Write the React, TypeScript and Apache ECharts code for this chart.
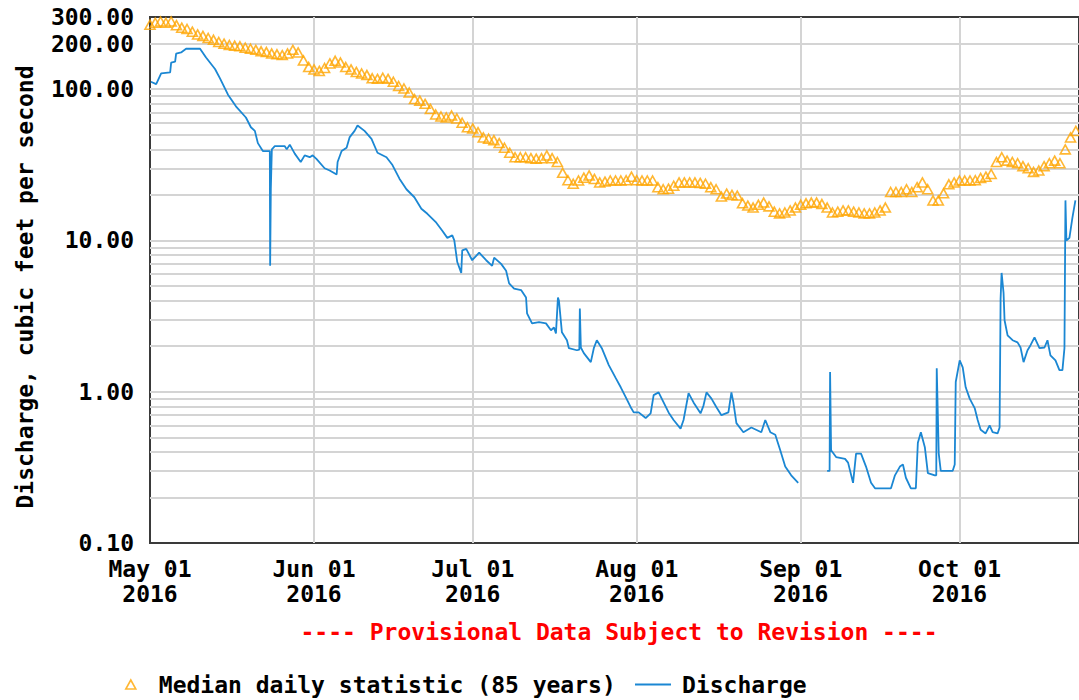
import React, { useEffect, useRef } from "react";
import * as echarts from "echarts";

const START = Date.UTC(2016, 4, 1);
const DAY = 86400000;
const MONTHS = ["Jan", "Feb", "Mar", "Apr", "May", "Jun", "Jul", "Aug", "Sep", "Oct", "Nov", "Dec"];

// month starts expressed as days since 2016-05-01
const monthLabelDays = [0, 31, 61, 92, 123, 153];
const monthGridDays = [31, 61, 92, 123, 153];

const yLabelValues = [0.1, 1, 10, 100, 200, 300];
const yGridValues = [
  0.2, 0.3, 0.4, 0.5, 0.6, 0.7, 0.8, 0.9,
  1, 2, 3, 4, 5, 6, 7, 8, 9,
  10, 20, 30, 40, 50, 60, 70, 80, 90,
  100, 200,
];

// Discharge: day offset since 2016-05-01 and value (cfs); null = gap
const dischargeDay = [
  0.17, 1.17, 2.11, 3.81, 4.0, 4.75, 4.94, 5.88, 6.82, 9.46,
  10.59, 12.29, 13.23, 14.74, 16.24, 18.13, 19.07, 19.82, 20.39, 21.33,
  22.65, 22.71, 22.84, 23.03, 23.59, 25.48, 25.85, 26.42, 27.36, 28.49,
  29.24, 30.19, 30.75, 31.5, 33.0, 33.96, 35.28, 35.46, 36.22, 37.16,
  37.72, 38.67, 39.23, 40.55, 41.87, 43.0, 44.7, 45.83, 47.15, 48.47,
  49.97, 51.29, 52.43, 54.12, 55.25, 56.2, 57.14, 57.52, 58.08, 58.83,
  59.02, 59.77, 60.9, 62.22, 63.54, 64.67, 65.05, 66.37, 67.31, 67.88,
  68.82, 70.14, 71.08, 71.27, 72.21, 73.53, 74.85, 75.79, 76.36, 76.73,
  77.11, 77.3, 77.86, 78.81, 79.18, 80.69, 81.15, 81.25, 81.44, 82.0,
  83.32, 83.89, 84.46, 85.4, 86.72, 88.04, 88.98, 89.92, 90.86, 91.43,
  92.37, 93.69, 94.63, 95.2, 96.14, 97.08, 98.02, 98.97, 100.29, 100.85,
  101.8, 102.74, 104.06, 104.62, 105.19, 106.13, 107.07, 108.01, 109.33, 109.9,
  110.27, 110.84, 112.16, 113.67, 115.55, 116.3, 117.25, 118.19, 119.13, 120.07,
  121.2, 122.52, 122.6, 127.99,
  128.46, 128.55, 128.74, 129.69, 131.38, 131.95, 132.89, 133.46, 134.4, 135.34,
  136.29, 137.04, 140.06, 140.81, 141.75, 142.32, 142.88, 143.82, 144.76, 145.14,
  145.71, 146.46, 147.03, 148.35, 148.62, 148.71, 149.09, 149.47, 151.73, 152.11,
  152.3, 153.05, 153.62, 154.18, 154.94, 155.88, 156.45, 157.01, 157.95, 158.71,
  159.27, 160.21, 160.59, 160.78, 160.97, 161.34, 161.53, 162.1, 163.04, 163.98,
  164.55, 165.12, 165.87, 166.44, 167.19, 168.13, 169.08, 169.64, 170.2, 171.15,
  171.9, 172.47, 172.85, 173.04, 173.22, 173.79, 174.35, 174.92,
];
const dischargeCfs = [
  112, 108, 127, 129, 150, 152, 172, 175, 185, 185,
  162, 136, 118, 92, 77, 65, 56, 53, 44, 39,
  39, 6.8, 22, 40, 42, 42, 40, 43, 37.5, 33,
  36.5, 35.5, 36.5, 34.5, 30, 29, 27.3, 33, 39, 41,
  48, 53, 57.5, 53, 47, 38, 35.5, 31.5, 25.6, 21.8,
  19.3, 16.2, 15, 13.1, 11.6, 10.4, 10.8, 10, 7.2, 6.1,
  8.6, 8.8, 7.4, 8.3, 7.4, 6.8, 7.7, 7.0, 6.3, 5.2,
  4.8, 4.7, 4.2, 3.3, 2.83, 2.88, 2.83, 2.55, 2.66, 2.43,
  4.2, 4.0, 2.47, 2.19, 1.94, 1.88, 1.9, 3.55, 1.96, 1.8,
  1.57, 1.94, 2.19, 1.94, 1.5, 1.23, 1.07, 0.92, 0.79, 0.73,
  0.73, 0.67, 0.72, 0.95, 0.99, 0.85, 0.73, 0.65, 0.57, 0.65,
  0.98, 0.85, 0.72, 0.81, 0.99, 0.9, 0.79, 0.7, 0.73, 0.99,
  0.85, 0.62, 0.54, 0.58, 0.54, 0.65, 0.54, 0.52, 0.41, 0.32,
  0.28, 0.25, null, 0.30,
  0.3, 1.35, 0.41, 0.37, 0.36, 0.34, 0.25, 0.39, 0.39, 0.32,
  0.25, 0.23, 0.23, 0.28, 0.32, 0.33, 0.27, 0.23, 0.23, 0.46,
  0.54, 0.43, 0.29, 0.28, 0.28, 1.43, 0.39, 0.3, 0.3, 0.33,
  1.16, 1.61, 1.45, 1.07, 0.9, 0.78, 0.65, 0.56, 0.53, 0.60,
  0.54, 0.53, 0.58, 4.1, 6.1, 4.5, 2.97, 2.36, 2.19, 2.12,
  1.96, 1.57, 1.88, 2.03, 2.29, 1.94, 1.96, 2.19, 1.74, 1.61,
  1.39, 1.39, 1.94, 18.4, 10, 10.4, 14.1, 18.4,
];

// Median daily statistic (85 years), one value per day from 2016-05-01
const medianCfs = [
  267, 275, 280, 275, 280, 265, 255, 250, 240, 230,
  225, 218, 212, 205, 200, 196, 194, 192, 188, 185,
  182, 178, 176, 172, 170, 168, 172, 182, 175, 155,
  140, 135, 132, 138, 148, 154, 150, 140, 135, 130,
  127, 124, 118, 117, 119, 117, 112, 105, 101, 95,
  86, 84, 80, 74, 68, 66, 65, 67, 64, 60,
  56, 55, 52, 48, 47, 46, 44, 41, 38, 35.5,
  35.5, 35.5, 35, 34.7, 35, 36.5, 35, 33, 28, 25,
  23.7, 24.9, 26, 26.9, 25.5, 24.2, 24.5, 24.9, 24.9, 24.9,
  25, 26.4, 25, 24.9, 24.9, 24.9, 22.5, 21.8, 22, 23,
  24.2, 24.2, 24.2, 24.2, 24, 23.7, 22.5, 21.8, 19.5, 20.4,
  20, 19.8, 17.6, 17, 16.5, 17.2, 17.8, 16.8, 15.5, 15.1,
  15.3, 15.8, 16.5, 17.2, 17.6, 17.8, 17.8, 17.4, 16.5, 15.3,
  15.5, 15.8, 15.8, 15.5, 15.3, 15.1, 15.1, 15.3, 15.8, 16.5,
  20.9, 20.9, 20.9, 21.8, 20.9, 22.5, 24.2, 21.8, 18.4, 18.4,
  20.5, 23.5, 24.2, 24.9, 24.9, 24.9, 25, 25.9, 26.4, 27.5,
  33, 35.5, 33.7, 33, 32.4, 31, 30, 28.4, 29, 31,
  32.4, 33.7, 32.4, 40, 48, 53,
];

const FONT = '"DejaVu Sans Mono", "Liberation Mono", monospace';
const ORANGE = "#ffa500";
const BLUE = "#1b87d3";

export default function App() {
  const ref = useRef<HTMLDivElement>(null);

  useEffect(() => {
    document.body.style.margin = "0";
    if (!ref.current) return;
    const chart = echarts.init(ref.current, null, { renderer: "svg" });

    const discharge = dischargeDay.map((d, i) => [d, dischargeCfs[i]]);
    const median = medianCfs.map((v, i) => [i, v]);

    const textBase = { fontFamily: FONT, fontWeight: "bold", fontSize: 23, color: "#000" };

    chart.setOption({
      animation: false,
      backgroundColor: "#fff",
      grid: {
        left: 150, top: 17, right: -3, bottom: 157,
        show: true, borderColor: "#3a3a3a", borderWidth: 2, backgroundColor: "#fff",
      },
      xAxis: {
        type: "value",
        min: 0,
        max: 175.6,
        axisLine: { show: false },
        axisTick: { show: false, customValues: monthGridDays },
        axisLabel: {
          ...textBase,
          customValues: monthLabelDays,
          lineHeight: 25,
          margin: 13,
          hideOverlap: false,
          formatter: (v: number) => {
            const d = new Date(START + Math.round(v) * DAY);
            return `${MONTHS[d.getUTCMonth()]} ${String(d.getUTCDate()).padStart(2, "0")}\n${d.getUTCFullYear()}`;
          },
        },
        splitLine: { show: true, lineStyle: { color: "#d4d4d4", width: 2 } },
      },
      yAxis: {
        type: "log",
        logBase: 10,
        min: 0.1,
        max: 300,
        name: "Discharge, cubic feet per second",
        nameLocation: "middle",
        nameGap: 114,
        nameRotate: 90,
        nameTextStyle: { ...textBase, padding: [0, 14, 0, 0] },
        axisLine: { show: false },
        axisTick: { show: false, customValues: yGridValues },
        axisLabel: {
          ...textBase,
          customValues: yLabelValues,
          margin: 16,
          formatter: (v: number) => Number(v).toFixed(2),
        },
        splitLine: { show: true, lineStyle: { color: "#d4d4d4", width: 2 } },
      },
      legend: [
        {
          left: 125, top: 673, padding: 0,
          itemWidth: 10, itemHeight: 9,
          data: [
            {
              name: "Median daily statistic (85 years)",
              icon: "triangle",
              itemStyle: { color: "rgba(255,255,255,0)", borderColor: ORANGE, borderWidth: 1.6 },
            },
          ],
          textStyle: { ...textBase, padding: [0, 0, 0, 18] },
        },
        {
          left: 635, top: 673, padding: 0,
          itemWidth: 36, itemHeight: 2,
          data: [
            { name: "Discharge", icon: "rect", itemStyle: { color: BLUE } },
          ],
          textStyle: { ...textBase, padding: [0, 0, 0, 6] },
        },
      ],
      graphic: [
        {
          type: "text",
          x: 619,
          y: 632,
          style: {
            text: "---- Provisional Data Subject to Revision ----",
            font: `bold 23px ${FONT}`,
            fill: "#ff0000",
            align: "center",
            verticalAlign: "middle",
          },
        },
      ],
      series: [
        {
          name: "Median daily statistic (85 years)",
          type: "scatter",
          data: median,
          symbol: "triangle",
          symbolSize: [10, 9],
          itemStyle: { color: "rgba(255,255,255,0)", borderColor: ORANGE, borderWidth: 1.6 },
          z: 3,
        },
        {
          name: "Discharge",
          type: "line",
          data: discharge,
          symbol: "none",
          showSymbol: false,
          connectNulls: false,
          lineStyle: { color: BLUE, width: 1.8 },
          itemStyle: { color: BLUE },
          z: 2,
        },
      ],
    });

    return () => chart.dispose();
  }, []);

  return (
    <div
      ref={ref}
      style={{ position: "absolute", left: 0, top: 0, width: 1079, height: 700, background: "#fff" }}
    />
  );
}
